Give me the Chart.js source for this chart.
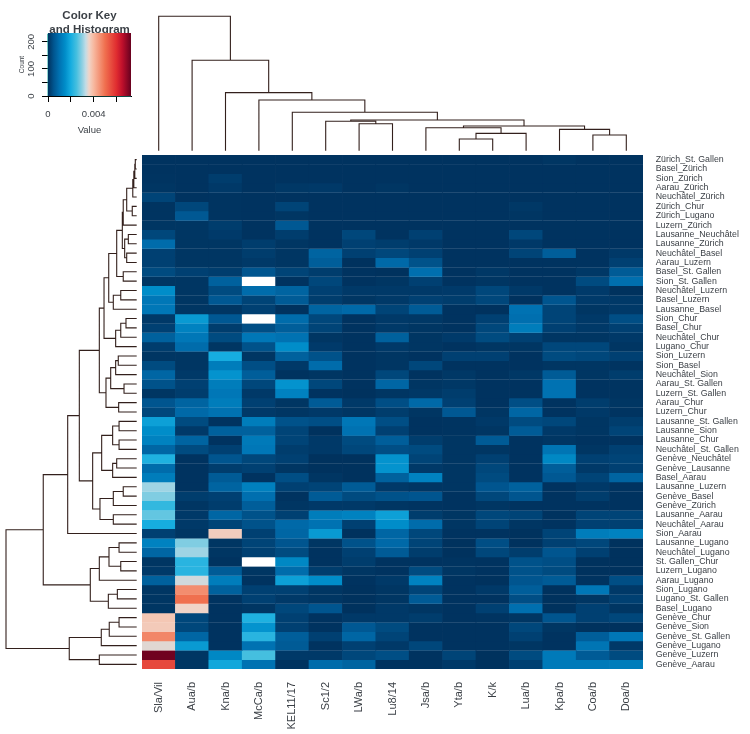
<!DOCTYPE html>
<html>
<head>
<meta charset="utf-8">
<style>
  html, body { margin: 0; padding: 0; background: #fff; }
  body { position: relative; width: 750px; height: 734px; overflow: hidden; }
  canvas { position: absolute; }
</style>
<script src="https://cdn.jsdelivr.net/npm/chart.js@4"></script>
</head>
<body>
<canvas id="keyChart" width="150" height="140" style="left:0;top:0"></canvas>
<canvas id="topTree" width="501" height="145" style="left:142px;top:6px"></canvas>
<canvas id="leftTree" width="138" height="514" style="left:0;top:155px"></canvas>
<canvas id="heatmap" width="608" height="579" style="left:142px;top:155px"></canvas>
<script>
const columnLabels = ['Sla/Vil', 'Aua/b', 'Kna/b', 'McCa/b', 'KEL11/17', 'Sc1/2', 'LWa/b', 'Lu8/14', 'Jsa/b', 'Yta/b', 'K/k', 'Lua/b', 'Kpa/b', 'Coa/b', 'Doa/b']

const rowLabels = [
  'Zürich_St. Gallen', 'Basel_Zürich', 'Sion_Zürich', 'Aarau_Zürich', 'Neuchâtel_Zürich',
  'Zürich_Chur', 'Zürich_Lugano', 'Luzern_Zürich', 'Lausanne_Neuchâtel', 'Lausanne_Zürich',
  'Neuchâtel_Basel', 'Aarau_Luzern', 'Basel_St. Gallen', 'Sion_St. Gallen', 'Neuchâtel_Luzern',
  'Basel_Luzern', 'Lausanne_Basel', 'Sion_Chur', 'Basel_Chur', 'Neuchâtel_Chur',
  'Lugano_Chur', 'Sion_Luzern', 'Sion_Basel', 'Neuchâtel_Sion', 'Aarau_St. Gallen',
  'Luzern_St. Gallen', 'Aarau_Chur', 'Luzern_Chur', 'Lausanne_St. Gallen', 'Lausanne_Sion',
  'Lausanne_Chur', 'Neuchâtel_St. Gallen', 'Genève_Neuchâtel', 'Genève_Lausanne', 'Basel_Aarau',
  'Lausanne_Luzern', 'Genève_Basel', 'Genève_Zürich', 'Lausanne_Aarau', 'Neuchâtel_Aarau',
  'Sion_Aarau', 'Lausanne_Lugano', 'Neuchâtel_Lugano', 'St. Gallen_Chur', 'Luzern_Lugano',
  'Aarau_Lugano', 'Sion_Lugano', 'Lugano_St. Gallen', 'Basel_Lugano', 'Genève_Chur',
  'Genève_Sion', 'Genève_St. Gallen', 'Genève_Lugano', 'Genève_Luzern', 'Genève_Aarau'
]

// cell values per column, in thousandths, top row first. null = missing (white)
const slaVil = [
  .02, .02, .03, .05, .25, .03, .03, .05, .3, .9,
  .2, .2, .35, .05, 1.5, 1.1, 1.1, .1, .2, .7,
  .15, .05, .35, .8, .45, .05, .5, .3, 1.8, 1.5,
  1.3, .8, 2.1, .9, 1.2, 3.1, 2.9, 2.3, 2.7, 2.0,
  .2, 1.3, .8, .05, .1, .7, .05, .05, .05, 3.8,
  3.75, 4.7, 3.5, 7.2, 5.6]
const auaB = [
  .02, .02, .02, .02, .02, .3, .55, .05, .05, .05,
  .05, .05, .2, .05, .05, .05, .05, 1.7, 1.3, 1.1,
  .9, .05, .05, .1, .2, .15, .75, .85, .35, .1,
  .75, .35, .02, .02, .02, .02, .15, .05, .1, .1,
  .05, 2.9, 3.1, 2.2, 2.2, 3.4, 4.6, 5.0, 3.6, .3,
  .3, .8, 1.7, .05, .05]
const knaB = [
  .02, .02, .15, .1, .03, .03, .03, .15, .12, .05,
  .05, .05, .15, .7, .35, .55, .05, .55, .15, .35,
  .05, 2.0, 1.2, 1.6, 1.2, 1.1, 1.2, 1.0, .02, .7,
  .02, .2, .5, .15, .6, .75, .2, .15, .8, .25,
  3.7, .05, .05, .02, .6, 1.2, .7, .02, .02, .02,
  .02, .02, .02, 1.4, 1.9]
const mcCaB = [
  .02, .02, .02, .02, .02, .02, .02, .02, .02, .15,
  .15, .1, .5, null, .9, .25, .2, null, .4, 1.1,
  .45, .05, .4, .65, .3, .1, .2, .1, 1.2, .7,
  1.15, 1.1, .3, .2, .02, 1.25, .95, .65, .45, .45,
  .2, .25, .2, null, .05, .02, .2, .2, .05, 2.1,
  1.6, 2.2, 1.0, 2.5, 1.0]
const kel1117 = [
  .02, .02, .02, .08, .02, .25, .05, .55, .15, .05,
  .05, .05, .25, .02, .75, .6, 0, .9, .65, 1.0,
  1.5, .7, .1, .02, 1.6, 1.3, .05, .05, .45, .25,
  .25, .15, .2, .05, .4, .2, .02, .05, .2, .85,
  .8, .5, .35, 1.4, .9, 1.8, .2, .1, .3, .2,
  .2, .65, .6, .1, .02]
const sc12 = [
  .02, .02, .02, .1, .02, .02, .02, .02, .02, .02,
  .75, .65, .15, .3, .2, .15, .75, .3, .25, .05,
  .12, .45, .9, .05, .3, .02, .6, .1, .4, 0,
  .1, .1, 0, 0, .05, .25, .6, .1, 1.2, 1.0,
  1.7, .05, .02, .02, .15, 1.5, .05, .05, .5, .02,
  .02, .2, .02, .1, .9]
const lwaB = [
  .02, .02, .02, .02, .02, .02, .02, .02, .3, .2,
  .2, 0, .02, .02, .1, .05, .85, .02, .02, .02,
  .02, .02, .02, .02, .02, 0, .1, .05, 1.1, 1.0,
  .35, .3, 0, 0, 0, .6, .35, .1, 1.3, .2,
  0, .45, .2, .15, .05, .02, 0, 0, 0, .1,
  .55, .8, .2, .3, .75]
const lu814 = [
  .02, .02, .02, .05, .02, .02, .02, .02, .02, .15,
  .3, .85, 0, .05, .1, .1, .25, .1, .1, .7,
  .1, .05, .05, .3, .8, .05, .4, .15, .4, .2,
  .65, .4, 1.6, 1.6, .7, .1, .45, .05, 1.8, 1.5,
  .8, .85, .6, .02, .02, .1, .05, .05, .1, .1,
  .35, .25, .1, .4, .02]
const jsaB = [
  .02, .02, .02, .02, .02, .02, .02, .02, .2, .1,
  .2, .45, .95, .2, .1, .2, .6, .08, .05, .05,
  .05, .02, .3, .02, .05, .08, .85, .05, .02, .02,
  .15, .35, .25, .1, 1.3, .05, .5, .03, .15, .9,
  .3, .25, .15, .02, .35, 1.3, .25, .6, .05, .15,
  .02, .02, .3, .02, .02]
const ytaB = [
  .02, .02, .02, .02, .02, .02, .02, .02, .02, .02,
  .02, .02, .02, .02, .12, .15, .02, .02, .02, .12,
  .02, .2, .02, .08, .08, .15, .2, .55, .03, .03,
  .05, .05, .05, .05, .05, .05, .02, .02, .05, .05,
  .02, 0, 0, .03, .05, .02, .02, .02, .02, .02,
  .02, .02, .02, .25, .1]
const kK = [
  .02, .02, .02, .02, .02, .02, .02, .02, .02, .02,
  .02, .02, .08, .05, .3, .3, 0, .2, .3, .35,
  .05, .2, .02, .02, .02, .02, .02, .05, .1, .05,
  .6, .05, .2, .3, .35, .5, .3, .05, .3, .25,
  .02, .4, .3, .02, .02, 0, .1, .02, .2, .03,
  .02, .02, .02, 0, 0]
const luaB = [
  .02, .02, .02, .02, .02, .08, .05, .02, .3, .1,
  .25, .02, .02, .02, .1, 0, 1.0, .95, 1.2, .2,
  .05, .02, .02, .08, .02, .02, .4, .8, .35, .6,
  .02, .02, .02, .02, .02, .7, .5, .02, .25, .05,
  0, 0, .15, .45, .45, .5, .65, .4, .95, .05,
  .3, .2, .05, .35, .2]
const kpaB = [
  .05, .02, .02, .02, .02, .02, .02, .02, .02, .02,
  .65, .02, .02, .02, .02, .5, .25, .25, .2, .05,
  .3, .35, .05, .6, 1.0, 1.0, .02, .02, .3, .1,
  .05, 1.05, 1.4, .65, .55, .02, .02, .02, .02, .02,
  .25, .2, .5, .4, .35, .6, 0, 0, 0, .5,
  .05, .02, .02, 1.15, 1.15]
const coaB = [
  .02, .02, .02, .02, .02, .02, .02, .02, .02, .02,
  .02, .02, .08, .35, .12, .12, .05, .1, .1, .05,
  .3, .3, .05, .05, .02, .02, .15, .1, .05, .05,
  .02, .05, .2, .1, .25, .1, .15, .02, .25, .2,
  1.2, .3, .2, 0, 0, .02, 1.1, .05, .2, .2,
  0, .65, 1.05, .6, 1.15]
const doaB = [
  .02, .02, .02, .02, .02, .02, .02, .02, .02, .02,
  .1, .2, .6, .95, 0, .1, .1, .4, .2, .1,
  .05, .2, .03, .15, .03, .03, .05, .03, .15, .25,
  .02, .2, .25, .2, .75, .02, .02, .02, .25, .2,
  1.3, 0, 0, 0, 0, .4, .1, .2, .05, .3,
  0, 1.1, .1, .35, 1.2]

const columnValues = [slaVil, auaB, knaB, mcCaB, kel1117, sc12, lwaB, lu814, jsaB, ytaB, kK, luaB, kpaB, coaB, doaB]

// hclust style merges: positive = leaf number, negative = earlier merge number
const colMergeA = [7, 6, 10, -3, 9, 14, 13, -5, -2, 5, 4, 3, 2, 1]
const colMergeB = [8, -1, 11, 12, -4, 15, -6, -7, -8, -9, -10, -11, -12, -13]
const colMergeHeight = [20.1, 21.9, 8.7, 12.9, 17.1, 11.7, 15.9, 18.4, 22.8, 28.6, 37.7, 43.2, 67.3, 100]

const rowMergeA = [
  1, -1, -2, -3, 6, -4, -6, 9, 11, -8,
  -7, 13, -11, 15, -14, -13, 18, -17, -18, -16,
  22, -21, 25, -22, 27, -24, -20, 29, 31, -28,
  33, -31, -30, 36, -34, 39, -35, -33, -27, -39,
  42, 44, -41, -43, 47, -45, -44, -40, 50, -49,
  -50, 54, -51, -48]
const rowMergeB = [
  2, 3, 4, 5, 7, -5, 8, 10, 12, -9,
  -10, 14, -12, 16, 17, -15, 19, 20, 21, -19,
  23, 24, 26, -23, 28, -25, -26, 30, 32, -29,
  34, 35, -32, 37, 38, 40, -36, -37, -38, 41,
  43, 45, -42, 46, 48, 49, -46, -47, 51, 52,
  53, 55, -52, -53]
const rowMergeHeight = [
  1.07, 1.45, 2.2, 3.0, 3.4, 7.65, 10.3, 6.4, 7.65, 9.2,
  11.0, 10.3, 15.3, 12.2, 17.9, 21.4, 8.2, 12.2, 16.1, 25.0,
  14.1, 16.1, 9.7, 19.9, 13.8, 23.5, 28.6, 13.5, 13.5, 18.4,
  15.3, 18.4, 26.8, 10.3, 17.9, 17.9, 28.1, 33.7, 43.9, 52.8,
  13.5, 12.2, 21.2, 28.6, 14.8, 21.7, 35.5, 71.5, 13.5, 21,
  27.1, 28.6, 51.6, 100]

// colour key
const colorStops = [0, .5, 1, 1.5, 2, 2.5, 3, 3.3, 3.6, 4, 5, 6, 6.5, 7.28]
const colorHexes = ['#00325e', '#00558f', '#0072b2', '#008dc9', '#16ade0', '#45bfdf', '#8fd0e3', '#c0dce6', '#f0d4c8', '#f7b9a0', '#f0704f', '#e02d30', '#c0102c', '#67001f']
const keyMax = 7.28
const keyCountMax = 233
const histValues = [0, 0, .1, .2, .4, .8, 1.5, 3, 7.28]
const histCounts = [0, 230, 60, 30, 15, 5, 2, 1, 0]
const keyValueTicks = [0, 2, 4, 6]
const keyValueLabels = ['0', '', '0.004', '']
const keyCountTicks = [0, 50, 100, 150, 200]
const keyCountLabels = ['0', '', '100', '', '200']

const inkColor = '#3a3f45'
const treeColor = '#33201c'
const sansFont = '"Liberation Sans", Arial, sans-serif'

function hexToRgb(hex) {
  return [1, 3, 5].map((i) => parseInt(hex.slice(i, i + 2), 16))
}

function cellColor(value) {
  if (value === null) return '#ffffff'
  let i = 0
  while (i < colorStops.length - 2 && value > colorStops[i + 1]) i++
  const t = Math.min(1, (value - colorStops[i]) / (colorStops[i + 1] - colorStops[i]))
  const a = hexToRgb(colorHexes[i])
  const b = hexToRgb(colorHexes[i + 1])
  const mix = a.map((c, k) => Math.round(c + (b[k] - c) * t))
  return `rgb(${mix[0]}, ${mix[1]}, ${mix[2]})`
}

// turn merges into one broken polyline, in [leaf position, height] pairs
function treePath(mergeA, mergeB, heights) {
  const nodes = []
  const nodeOf = (ref) => ref > 0 ? { pos: ref - 0.5, height: 0 } : nodes[-ref - 1]
  const path = []
  heights.forEach((height, i) => {
    const a = nodeOf(mergeA[i])
    const b = nodeOf(mergeB[i])
    path.push([a.pos, a.height], [a.pos, height], [b.pos, height], [b.pos, b.height], [NaN, NaN])
    nodes.push({ pos: (a.pos + b.pos) / 2, height: height })
  })
  return path
}

const hiddenAxis = { display: false }

new Chart(document.getElementById('topTree'), {
  type: 'scatter',
  data: {
    datasets: [{
      data: treePath(colMergeA, colMergeB, colMergeHeight).map(([pos, h]) => ({ x: pos, y: h })),
      showLine: true,
      borderColor: treeColor,
      borderWidth: 1.1,
      pointRadius: 0,
      clip: false
    }]
  },
  options: {
    responsive: false,
    animation: false,
    layout: { padding: { top: 10.3, bottom: 0.3, left: 0, right: 0 } },
    plugins: { legend: { display: false }, tooltip: { enabled: false } },
    scales: {
      x: { ...hiddenAxis, type: 'linear', min: 0, max: columnLabels.length },
      y: { ...hiddenAxis, type: 'linear', min: 0, max: 100 }
    }
  }
})

new Chart(document.getElementById('leftTree'), {
  type: 'scatter',
  data: {
    datasets: [{
      data: treePath(rowMergeA, rowMergeB, rowMergeHeight).map(([pos, h]) => ({ x: h, y: pos })),
      showLine: true,
      borderColor: treeColor,
      borderWidth: 1.1,
      pointRadius: 0,
      clip: false
    }]
  },
  options: {
    responsive: false,
    animation: false,
    layout: { padding: { top: 0, bottom: 0, left: 6, right: 1.3 } },
    plugins: { legend: { display: false }, tooltip: { enabled: false } },
    scales: {
      x: { ...hiddenAxis, type: 'linear', min: 0, max: 100, reverse: true },
      y: { ...hiddenAxis, type: 'linear', min: 0, max: rowLabels.length, reverse: true }
    }
  }
})

// one floating bar dataset per row; the small overlap hides antialiasing seams
const cellOverlap = 0.03
const heatDatasets = rowLabels.map((label, r) => ({
  label: label,
  data: columnLabels.map(() => [r, r + 1 + cellOverlap]),
  backgroundColor: columnValues.map((col) => cellColor(col[r])),
  barPercentage: 1.02,
  categoryPercentage: 1,
  grouped: false
}))

new Chart(document.getElementById('heatmap'), {
  type: 'bar',
  data: { labels: columnLabels, datasets: heatDatasets },
  options: {
    responsive: false,
    animation: false,
    layout: { padding: 0 },
    plugins: { legend: { display: false }, tooltip: { enabled: false } },
    scales: {
      x: {
        position: 'bottom',
        grid: { display: false, drawTicks: false },
        border: { display: false },
        ticks: {
          autoSkip: false,
          minRotation: 90,
          maxRotation: 90,
          padding: 13,
          color: inkColor,
          font: { family: sansFont, size: 11 }
        },
        afterFit: (scale) => {
          scale.height = 65
          scale.paddingLeft = 0
          scale.paddingRight = 0
        }
      },
      y: {
        type: 'linear',
        position: 'right',
        min: 0,
        max: rowLabels.length,
        reverse: true,
        grid: { display: false, drawTicks: false },
        border: { display: false },
        afterBuildTicks: (scale) => { scale.ticks = rowLabels.map((_, i) => ({ value: i + 0.5 })) },
        ticks: {
          autoSkip: false,
          padding: 12.7,
          color: inkColor,
          font: { family: sansFont, size: 8.8 },
          callback: (value) => rowLabels[value - 0.5]
        },
        afterFit: (scale) => {
          scale.width = 107
          scale.paddingTop = 0
          scale.paddingBottom = 0
        }
      }
    }
  }
})

new Chart(document.getElementById('keyChart'), {
  type: 'scatter',
  data: {
    datasets: [
      {
        data: [{ x: 0, y: keyCountMax }, { x: keyMax, y: keyCountMax }],
        showLine: true,
        borderWidth: 0,
        pointRadius: 0,
        fill: 'origin',
        backgroundColor: (context) => {
          const area = context.chart.chartArea
          if (!area) return colorHexes[0]
          const gradient = context.chart.ctx.createLinearGradient(area.left, 0, area.right, 0)
          colorStops.forEach((stop, i) => gradient.addColorStop(stop / keyMax, colorHexes[i]))
          return gradient
        }
      },
      {
        data: histValues.map((v, i) => ({ x: v, y: histCounts[i] })),
        showLine: true,
        borderColor: '#20a8a0',
        borderWidth: 1,
        pointRadius: 0,
        clip: false
      }
    ]
  },
  options: {
    responsive: false,
    animation: false,
    layout: { padding: { left: 0, right: 19, top: 0, bottom: 0 } },
    plugins: {
      legend: { display: false },
      tooltip: { enabled: false },
      title: {
        display: true,
        fullSize: false,
        text: ['Color Key', 'and Histogram'],
        color: inkColor,
        font: { family: sansFont, size: 11.5, weight: 'bold', lineHeight: 1.25 },
        padding: { top: 8.5, bottom: -4.25 }
      }
    },
    scales: {
      x: {
        type: 'linear',
        min: 0,
        max: keyMax,
        grid: { drawOnChartArea: false, color: '#000', tickLength: 6 },
        border: { color: '#000' },
        afterBuildTicks: (scale) => { scale.ticks = keyValueTicks.map((v) => ({ value: v })) },
        ticks: {
          autoSkip: false,
          maxRotation: 0,
          padding: 7,
          color: inkColor,
          font: { family: sansFont, size: 9.5 },
          callback: (value) => keyValueLabels[keyValueTicks.indexOf(value)]
        },
        title: {
          display: true,
          text: 'Value',
          color: inkColor,
          font: { family: sansFont, size: 9.5 },
          padding: { top: 0, bottom: 4 }
        },
        afterFit: (scale) => { scale.height = 44 }
      },
      y: {
        type: 'linear',
        min: 0,
        max: keyCountMax,
        grid: { drawOnChartArea: false, color: '#000', tickLength: 6 },
        border: { color: '#000' },
        afterBuildTicks: (scale) => { scale.ticks = keyCountTicks.map((v) => ({ value: v })) },
        ticks: {
          autoSkip: false,
          minRotation: 90,
          maxRotation: 90,
          crossAlign: 'center',
          padding: 3,
          color: inkColor,
          font: { family: sansFont, size: 9.5 },
          callback: (value) => keyCountLabels[keyCountTicks.indexOf(value)]
        },
        title: {
          display: true,
          text: 'Count',
          color: inkColor,
          font: { family: sansFont, size: 6.5 },
          padding: { top: 18, bottom: 0 }
        },
        afterFit: (scale) => { scale.width = 48 }
      }
    }
  }
})
</script>
</body>
</html>
